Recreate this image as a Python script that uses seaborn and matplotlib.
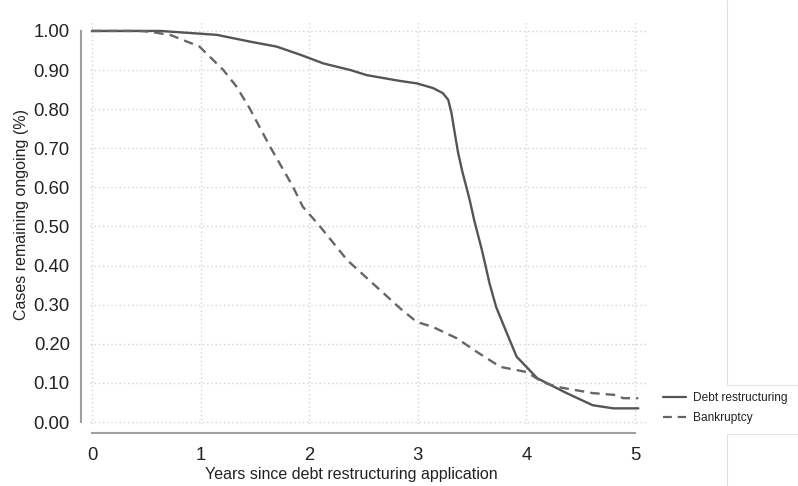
import matplotlib
matplotlib.use("Agg")
import matplotlib.pyplot as plt
import seaborn as sns
import pandas as pd
from matplotlib.lines import Line2D

sns.set_theme(style="white")
plt.rcParams['font.family'] = ['Liberation Sans', 'DejaVu Sans']

# --- data ---
debt_x = [0.0, 0.63, 1.15, 1.45, 1.70, 1.92, 2.13, 2.38, 2.53, 2.84, 2.99, 3.14, 3.23,
          3.28, 3.31, 3.34, 3.37, 3.41, 3.45, 3.48, 3.52, 3.59, 3.66, 3.72, 3.82, 3.91,
          4.00, 4.10, 4.22, 4.37, 4.61, 4.80, 5.03]
debt_y = [1.000, 1.000, 0.990, 0.973, 0.960, 0.939, 0.917, 0.900, 0.887, 0.872, 0.866, 0.854, 0.841,
          0.824, 0.790, 0.739, 0.690, 0.640, 0.598, 0.565, 0.515, 0.440, 0.355, 0.295, 0.227, 0.167,
          0.141, 0.112, 0.095, 0.074, 0.043, 0.035, 0.035]
bank_x = [0.0, 0.44, 0.53, 0.72, 0.99, 1.21, 1.33, 1.45, 1.64, 1.85, 1.94, 2.10, 2.35,
          2.84, 2.99, 3.14, 3.36, 3.54, 3.76, 4.00, 4.15, 4.28, 4.61, 4.83, 4.89, 5.03]
bank_y = [1.000, 1.000, 0.998, 0.990, 0.960, 0.900, 0.858, 0.803, 0.704, 0.602, 0.551, 0.500, 0.414,
          0.290, 0.256, 0.243, 0.214, 0.180, 0.141, 0.128, 0.102, 0.090, 0.074, 0.069, 0.061, 0.061]
series_names = ["Debt restructuring", "Bankruptcy"]
x_ticks = [0, 1, 2, 3, 4, 5]
y_ticks = [0.0, 0.1, 0.2, 0.3, 0.4, 0.5, 0.6, 0.7, 0.8, 0.9, 1.0]

df = pd.concat([
    pd.DataFrame({"x": debt_x, "y": debt_y, "series": series_names[0]}),
    pd.DataFrame({"x": bank_x, "y": bank_y, "series": series_names[1]}),
], ignore_index=True)

W, H = 798, 486
fig = plt.figure(figsize=(W / 100, H / 100), dpi=100)
L, R, T, B = 90, 647, 20, 424
ax = fig.add_axes([L / W, 1 - B / H, (R - L) / W, (B - T) / H])

sns.lineplot(data=df, x="x", y="y", hue="series", style="series",
             palette={series_names[0]: "#555555", series_names[1]: "#666666"},
             dashes={series_names[0]: "", series_names[1]: (4, 2.6)},
             linewidth=1.7, sort=False, estimator=None, ax=ax, legend=False)

ax.set_xlim(-0.018, 5.11)
ax.set_ylim(-0.005, 1.028)
ax.set_xticks(x_ticks)
ax.set_yticks(y_ticks)
ax.set_yticklabels([f"{v:.2f}" for v in y_ticks])
ax.set_xticklabels([str(v) for v in x_ticks])

ax.grid(True, linestyle=(0, (1, 2)), color="#d4d4d4", linewidth=1.0)
ax.set_axisbelow(True)

for s in ["top", "right"]:
    ax.spines[s].set_visible(False)
for s in ["left", "bottom"]:
    ax.spines[s].set_color("#a0a0a0")
    ax.spines[s].set_linewidth(1.5)
    ax.spines[s].set_position(("outward", 6.5))
ax.spines["left"].set_bounds(0, 1)
ax.spines["bottom"].set_bounds(0, 5)

ax.tick_params(axis="both", which="major", direction="out", length=5, width=1.3,
               color="#a0a0a0", labelsize=13.3, labelcolor="#222222", pad=3)
ax.tick_params(axis="x", pad=5)

ax.set_xlabel("Years since debt restructuring application", fontsize=11.5, color="#222222")
ax.set_ylabel("Cases remaining ongoing (%)", fontsize=11.5, color="#222222")
ax.xaxis.set_label_coords((351 - L) / (R - L), (B - 467) / (B - T))
ax.yaxis.set_label_coords((29 - L) / (R - L), (B - 214) / (B - T))

handles = [Line2D([], [], color="#555555", lw=1.6),
           Line2D([], [], color="#666666", lw=1.6, dashes=(4, 2.6))]
fig.legend(handles, series_names, loc="upper left",
           bbox_to_anchor=(663 / W, 1 - 392 / H), frameon=False,
           fontsize=8.6, handlelength=1.9, handletextpad=0.65, labelspacing=0.7,
           labelcolor="#222222", borderpad=0, borderaxespad=0)

# faint screenshot frame lines at right
fc = "#e2e2e2"
fig.add_artist(Line2D([727 / W, 727 / W], [1, 1 - 385 / H], color=fc, lw=0.8, transform=fig.transFigure))
fig.add_artist(Line2D([727 / W, 1], [1 - 385 / H, 1 - 385 / H], color=fc, lw=0.8, transform=fig.transFigure))
fig.add_artist(Line2D([727 / W, 727 / W], [1 - 434 / H, 0], color=fc, lw=0.8, transform=fig.transFigure))
fig.add_artist(Line2D([727 / W, 1], [1 - 434 / H, 1 - 434 / H], color=fc, lw=0.8, transform=fig.transFigure))

fig.savefig("out.png", dpi=100)
